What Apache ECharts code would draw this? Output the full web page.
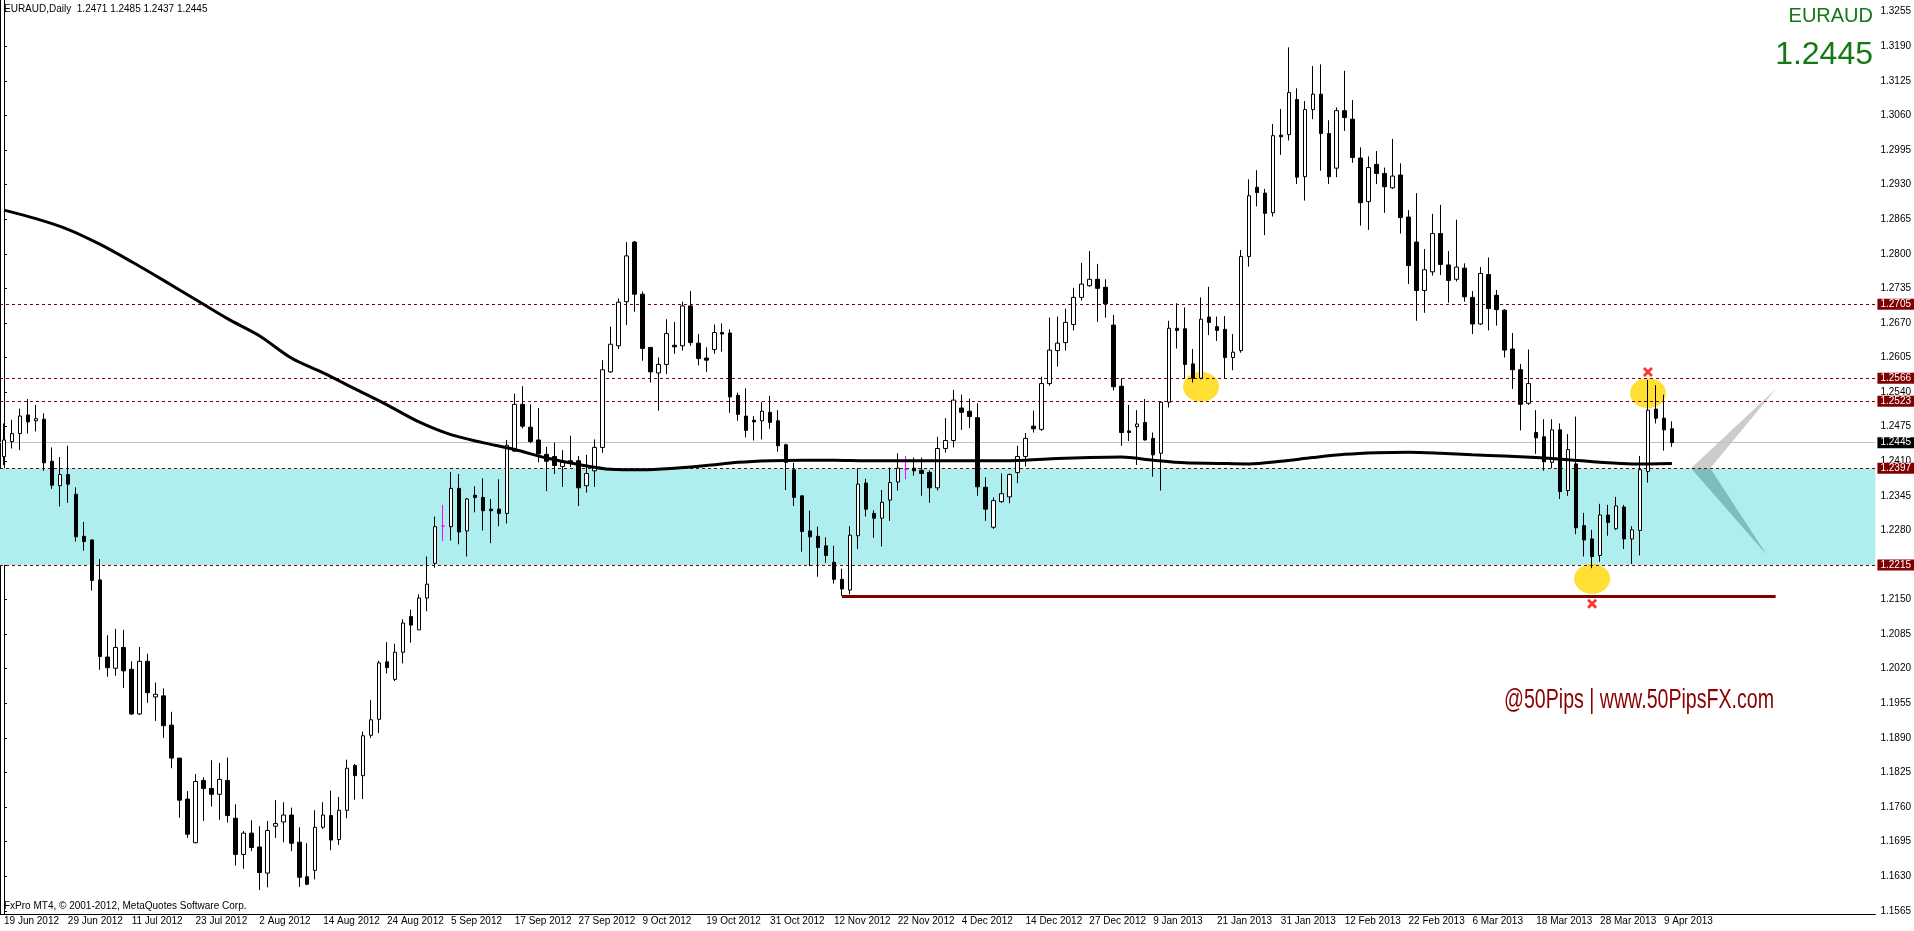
<!DOCTYPE html>
<html>
<head>
<meta charset="utf-8">
<title>EURAUD Daily</title>
<script src="https://cdn.jsdelivr.net/npm/echarts@6/dist/echarts.min.js"></script>
<style>
  html, body { margin: 0; padding: 0; background: #fff; }
  #chart { width: 1914px; height: 931px; }
</style>
</head>
<body>
<div id="chart"></div>
<script>
// daily bars, MT4 order: [open, high, low, close]
var bars = [
  [1.2419,1.2481,1.2403,1.2450],[1.2447,1.2488,1.2434,1.2462],[1.2462,1.2509,1.2431,1.2495],[1.2497,1.2527,1.2462,1.2484],
  [1.2486,1.2516,1.2466,1.2490],[1.2489,1.2500,1.2392,1.2407],[1.2410,1.2436,1.2358,1.2365],[1.2364,1.2418,1.2325,1.2385],
  [1.2385,1.2439,1.2332,1.2367],[1.2348,1.2361,1.2259,1.2268],[1.2269,1.2296,1.2242,1.2259],[1.2262,1.2263,1.2167,1.2186],
  [1.2187,1.2226,1.2018,1.2043],[1.2042,1.2083,1.2005,1.2022],[1.2021,1.2095,1.2007,1.2060],[1.2060,1.2093,1.1984,1.2016],
  [1.2019,1.2034,1.1933,1.1935],[1.1935,1.2061,1.1933,1.2034],[1.2034,1.2048,1.1956,1.1975],[1.1967,1.1994,1.1922,1.1972],
  [1.1969,1.1983,1.1890,1.1913],[1.1914,1.1939,1.1833,1.1852],[1.1852,1.1852,1.1740,1.1773],[1.1775,1.1790,1.1702,1.1709],
  [1.1693,1.1822,1.1692,1.1808],[1.1810,1.1816,1.1734,1.1795],[1.1795,1.1848,1.1761,1.1784],[1.1784,1.1843,1.1736,1.1812],
  [1.1810,1.1853,1.1731,1.1744],[1.1739,1.1765,1.1650,1.1671],[1.1671,1.1715,1.1644,1.1711],[1.1711,1.1735,1.1677,1.1684],
  [1.1685,1.1724,1.1604,1.1637],[1.1636,1.1734,1.1609,1.1716],[1.1724,1.1773,1.1702,1.1729],[1.1732,1.1769,1.1694,1.1745],
  [1.1745,1.1759,1.1677,1.1692],[1.1694,1.1722,1.1610,1.1628],[1.1629,1.1692,1.1613,1.1615],[1.1641,1.1754,1.1624,1.1722],
  [1.1722,1.1769,1.1719,1.1745],[1.1744,1.1791,1.1679,1.1698],[1.1699,1.1779,1.1689,1.1754],[1.1754,1.1849,1.1739,1.1833],
  [1.1838,1.1841,1.1774,1.1819],[1.1819,1.1902,1.1775,1.1894],[1.1895,1.1961,1.1890,1.1924],[1.1925,1.2035,1.1899,1.2031],
  [1.2033,1.2070,1.2011,1.2022],[1.2000,1.2067,1.1997,1.2051],[1.2051,1.2113,1.2030,1.2106],[1.2118,1.2131,1.2069,1.2102],
  [1.2093,1.2160,1.2093,1.2153],[1.2153,1.2231,1.2128,1.2179],[1.2218,1.2306,1.2210,1.2287],[1.2288,1.2328,1.2260,1.2288],
  [1.2287,1.2390,1.2261,1.2359],[1.2359,1.2386,1.2254,1.2277],[1.2279,1.2341,1.2231,1.2339],[1.2346,1.2363,1.2314,1.2342],
  [1.2342,1.2378,1.2280,1.2317],[1.2320,1.2339,1.2256,1.2317],[1.2320,1.2376,1.2288,1.2312],[1.2312,1.2450,1.2293,1.2440],
  [1.2429,1.2537,1.2428,1.2517],[1.2517,1.2551,1.2472,1.2476],[1.2474,1.2517,1.2444,1.2447],[1.2450,1.2510,1.2408,1.2424],
  [1.2423,1.2437,1.2354,1.2410],[1.2419,1.2445,1.2386,1.2402],[1.2400,1.2431,1.2362,1.2408],[1.2411,1.2458,1.2399,1.2407],
  [1.2411,1.2420,1.2326,1.2360],[1.2364,1.2422,1.2351,1.2387],[1.2392,1.2451,1.2362,1.2436],[1.2436,1.2600,1.2426,1.2582],
  [1.2578,1.2663,1.2576,1.2630],[1.2627,1.2716,1.2621,1.2709],[1.2710,1.2822,1.2666,1.2796],[1.2822,1.2824,1.2691,1.2724],
  [1.2724,1.2729,1.2599,1.2622],[1.2624,1.2624,1.2558,1.2578],[1.2576,1.2605,1.2505,1.2592],[1.2592,1.2677,1.2574,1.2650],
  [1.2628,1.2672,1.2612,1.2625],[1.2627,1.2710,1.2618,1.2702],[1.2702,1.2730,1.2627,1.2633],[1.2632,1.2649,1.2590,1.2603],
  [1.2604,1.2624,1.2578,1.2600],[1.2620,1.2667,1.2612,1.2652],[1.2652,1.2669,1.2616,1.2649],[1.2651,1.2658,1.2501,1.2531],
  [1.2534,1.2539,1.2486,1.2498],[1.2495,1.2547,1.2455,1.2468],[1.2487,1.2495,1.2449,1.2484],[1.2486,1.2521,1.2451,1.2504],
  [1.2502,1.2533,1.2471,1.2483],[1.2486,1.2506,1.2428,1.2439],[1.2441,1.2443,1.2356,1.2408],[1.2394,1.2407,1.2326,1.2342],
  [1.2345,1.2345,1.2240,1.2278],[1.2279,1.2317,1.2213,1.2268],[1.2269,1.2287,1.2193,1.2248],[1.2251,1.2267,1.2219,1.2233],
  [1.2220,1.2251,1.2180,1.2188],[1.2188,1.2208,1.2157,1.2170],[1.2168,1.2288,1.2160,1.2271],[1.2270,1.2397,1.2245,1.2367],
  [1.2369,1.2377,1.2306,1.2320],[1.2312,1.2318,1.2266,1.2303],[1.2303,1.2356,1.2250,1.2333],[1.2337,1.2398,1.2298,1.2370],
  [1.2371,1.2425,1.2355,1.2397],[1.2395,1.2420,1.2376,1.2395],[1.2397,1.2417,1.2383,1.2392],[1.2393,1.2417,1.2345,1.2387],
  [1.2389,1.2393,1.2332,1.2360],[1.2360,1.2456,1.2355,1.2434],[1.2434,1.2491,1.2426,1.2449],[1.2449,1.2544,1.2436,1.2525],
  [1.2510,1.2535,1.2469,1.2502],[1.2504,1.2528,1.2472,1.2494],[1.2492,1.2519,1.2345,1.2362],[1.2361,1.2380,1.2298,1.2320],
  [1.2286,1.2342,1.2283,1.2336],[1.2334,1.2387,1.2332,1.2349],[1.2343,1.2387,1.2331,1.2385],[1.2389,1.2439,1.2369,1.2419],
  [1.2419,1.2463,1.2400,1.2453],[1.2476,1.2505,1.2464,1.2471],[1.2470,1.2569,1.2467,1.2556],[1.2556,1.2680,1.2552,1.2619],
  [1.2618,1.2682,1.2588,1.2632],[1.2633,1.2697,1.2618,1.2671],[1.2667,1.2736,1.2656,1.2718],[1.2718,1.2783,1.2712,1.2743],
  [1.2740,1.2805,1.2738,1.2752],[1.2752,1.2781,1.2672,1.2735],[1.2737,1.2752,1.2680,1.2706],[1.2666,1.2685,1.2543,1.2550],
  [1.2551,1.2566,1.2439,1.2464],[1.2467,1.2516,1.2448,1.2464],[1.2475,1.2506,1.2403,1.2480],[1.2483,1.2527,1.2449,1.2450],
  [1.2453,1.2464,1.2381,1.2422],[1.2425,1.2523,1.2355,1.2521],[1.2521,1.2674,1.2511,1.2660],[1.2660,1.2707,1.2622,1.2656],
  [1.2659,1.2699,1.2566,1.2592],[1.2593,1.2621,1.2558,1.2566],[1.2566,1.2718,1.2564,1.2677],[1.2681,1.2738,1.2647,1.2671],
  [1.2663,1.2682,1.2636,1.2656],[1.2658,1.2683,1.2566,1.2605],[1.2605,1.2649,1.2581,1.2615],[1.2618,1.2807,1.2614,1.2795],
  [1.2795,1.2940,1.2776,1.2909],[1.2925,1.2957,1.2889,1.2915],[1.2914,1.2922,1.2835,1.2876],[1.2877,1.3044,1.2870,1.3022],
  [1.3023,1.3072,1.2986,1.3020],[1.3024,1.3188,1.3013,1.3103],[1.3090,1.3111,1.2931,1.2944],[1.2945,1.3087,1.2900,1.3071],
  [1.3071,1.3153,1.3053,1.3100],[1.3100,1.3156,1.2956,1.3026],[1.3026,1.3051,1.2931,1.2945],[1.2961,1.3075,1.2944,1.3069],
  [1.3069,1.3144,1.3031,1.3056],[1.3053,1.3089,1.2971,1.2981],[1.2980,1.3000,1.2853,1.2896],[1.2898,1.2983,1.2845,1.2962],
  [1.2968,1.2993,1.2931,1.2951],[1.2951,1.2962,1.2877,1.2926],[1.2924,1.3016,1.2922,1.2946],[1.2948,1.2970,1.2838,1.2868],
  [1.2869,1.2882,1.2743,1.2778],[1.2822,1.2914,1.2674,1.2731],[1.2731,1.2809,1.2689,1.2770],[1.2766,1.2875,1.2759,1.2838],
  [1.2838,1.2892,1.2760,1.2780],[1.2779,1.2805,1.2708,1.2750],[1.2752,1.2864,1.2748,1.2775],[1.2773,1.2782,1.2710,1.2719],
  [1.2718,1.2730,1.2649,1.2668],[1.2668,1.2775,1.2666,1.2763],[1.2761,1.2793,1.2656,1.2697],[1.2722,1.2732,1.2665,1.2695],
  [1.2694,1.2696,1.2605,1.2619],[1.2621,1.2651,1.2546,1.2582],[1.2582,1.2593,1.2468,1.2517],[1.2519,1.2620,1.2516,1.2556],
  [1.2464,1.2506,1.2424,1.2454],[1.2456,1.2489,1.2392,1.2409],[1.2408,1.2489,1.2397,1.2469],[1.2469,1.2481,1.2339,1.2353],
  [1.2355,1.2461,1.2345,1.2432],[1.2405,1.2494,1.2273,1.2285],[1.2289,1.2313,1.2231,1.2262],[1.2264,1.2281,1.2209,1.2231],
  [1.2233,1.2330,1.2221,1.2309],[1.2309,1.2328,1.2270,1.2295],[1.2283,1.2343,1.2281,1.2326],[1.2324,1.2328,1.2245,1.2264],
  [1.2264,1.2288,1.2217,1.2281],[1.2280,1.2420,1.2233,1.2394],[1.2391,1.2563,1.2370,1.2506],[1.2508,1.2553,1.2481,1.2491],
  [1.2491,1.2535,1.2430,1.2469],[1.2471,1.2485,1.2437,1.2445]
];

// moving average, read every few bars: [bar index, price]
var maLine = [
  [0,1.2882],[4,1.2866],[8,1.2846],[12,1.2818],[16,1.2785],[20,1.2750],[24,1.2714],[28,1.2678],
  [32,1.2646],[36,1.2604],[40,1.2576],[44,1.2546],[48,1.2516],[52,1.2484],[56,1.2460],[60,1.2445],
  [64,1.2432],[68,1.2416],[72,1.2404],[76,1.2395],[80,1.2394],[84,1.2397],[88,1.2402],[92,1.2408],
  [96,1.2411],[100,1.2412],[104,1.2412],[108,1.2411],[112,1.2411],[116,1.2411],[120,1.2411],[124,1.2411],
  [128,1.2412],[132,1.2415],[136,1.2417],[140,1.2418],[144,1.2412],[148,1.2407],[152,1.2406],[156,1.2405],
  [160,1.2410],[164,1.2417],[168,1.2423],[172,1.2426],[176,1.2427],[180,1.2425],[184,1.2422],[188,1.2420],
  [192,1.2417],[196,1.2413],[200,1.2408],[204,1.2405],[209,1.2406]
];

var dateTicks = ['19 Jun 2012','29 Jun 2012','11 Jul 2012','23 Jul 2012','2 Aug 2012','14 Aug 2012','24 Aug 2012',
  '5 Sep 2012','17 Sep 2012','27 Sep 2012','9 Oct 2012','19 Oct 2012','31 Oct 2012','12 Nov 2012','22 Nov 2012',
  '4 Dec 2012','14 Dec 2012','27 Dec 2012','9 Jan 2013','21 Jan 2013','31 Jan 2013','12 Feb 2013','22 Feb 2013',
  '6 Mar 2013','18 Mar 2013','28 Mar 2013','9 Apr 2013'];
var priceTicks = [1.1565,1.1630,1.1695,1.1760,1.1825,1.1890,1.1955,1.2020,1.2085,1.2150,1.2215,1.2280,1.2345,1.2410,
  1.2475,1.2540,1.2605,1.2670,1.2735,1.2800,1.2865,1.2930,1.2995,1.3060,1.3125,1.3190,1.3255];

var levels = [1.2705, 1.2566, 1.2523, 1.2397, 1.2215];
var bidPrice = 1.2445;
var zone = [1.2215, 1.2397];
var support = [[105, 1.2157], [222, 1.2157]];
var dojiBars = [55, 113];
var circles = [[150, 1.2550], [199, 1.2189], [206, 1.2538]];
var crosses = [[206, 1.2578], [199, 1.2142]];
var arrowUp = [211.4, 1.2397, 222.1, 1.2547, 213.8, 1.2397];
var arrowDown = [211.4, 1.2397, 213.8, 1.2397, 220.9, 1.2234];

var slots = 235;   // bars plus the empty shift area on the right
var cats = [];
for (var i = 0; i < slots; i++) cats.push(String(i));

var candleData = bars.map(function (b, i) {
  var item = { value: [b[0], b[3], b[2], b[1]] };
  if (dojiBars.indexOf(i) >= 0) {
    item.itemStyle = { borderColor: '#ff00ff', borderColor0: '#ff00ff', color: '#ff00ff', color0: '#ff00ff' };
  }
  return item;
});

var font = '"Liberation Sans", Arial, sans-serif';
var darkRed = '#800000';

function tickShown(idx) { return idx % 8 === 0 && idx / 8 < dateTicks.length; }

var chart = echarts.init(document.getElementById('chart'));
chart.setOption({
  animation: false,
  backgroundColor: '#fff',
  grid: { left: 0, right: 37, top: 0, bottom: 17, containLabel: false },
  xAxis: [{
    type: 'category',
    data: cats,
    boundaryGap: true,
    axisLine: { lineStyle: { color: '#000', width: 1 } },
    axisTick: { alignWithLabel: true, interval: tickShown, length: 4, lineStyle: { color: '#000' } },
    axisLabel: {
      interval: tickShown,
      formatter: function (v, idx) { return dateTicks[idx / 8] || ''; },
      align: 'left', margin: 2,
      fontFamily: font, fontSize: 10, color: '#000'
    },
    splitLine: { show: false }
  }, {
    type: 'value', min: -0.5, max: slots - 0.5, show: false
  }],
  yAxis: [{
    type: 'value',
    position: 'right',
    min: 1.1559, max: 1.3277,
    axisLine: { show: true, lineStyle: { color: '#000', width: 1 } },
    axisTick: { show: true, customValues: priceTicks, length: 3, lineStyle: { color: '#000' } },
    axisLabel: {
      customValues: priceTicks, margin: 5,
      formatter: function (v) { return v.toFixed(4); },
      fontFamily: font, fontSize: 10, color: '#000'
    },
    splitLine: { show: false }
  }, {
    type: 'value', position: 'left', min: 1.1559, max: 1.3277,
    axisLine: { show: true, lineStyle: { color: '#000' } },
    axisTick: { show: false }, axisLabel: { show: false }, splitLine: { show: false }
  }],
  series: [{
    // support / resistance zone behind everything
    type: 'line', data: [], z: 1, silent: true,
    markArea: {
      silent: true,
      itemStyle: { color: '#afeeee' },
      data: [[{ yAxis: zone[0] }, { yAxis: zone[1] }]]
    }
  }, {
    type: 'scatter', xAxisIndex: 1, z: 2, silent: true,
    symbol: 'circle', symbolSize: [36, 30],
    itemStyle: { color: '#ffd700' },
    data: circles
  }, {
    // level lines and their price boxes
    type: 'line', data: [], z: 3, silent: true,
    markLine: {
      silent: true, symbol: ['none', 'none'], precision: 4,
      label: {
        position: 'end', distance: 2,
        formatter: function (p) { return Number(p.value).toFixed(4); },
        backgroundColor: darkRed, color: '#fff', padding: [1, 3, 0, 3],
        fontFamily: font, fontSize: 10
      },
      lineStyle: { color: darkRed, type: [3, 3], width: 1 },
      data: levels.map(function (v) { return { yAxis: v }; }).concat([{
        yAxis: bidPrice,
        lineStyle: { color: '#c0c0c0', type: 'solid', width: 1 },
        label: { backgroundColor: '#000', color: '#fff' }
      }])
    }
  }, {
    type: 'line', data: [], xAxisIndex: 1, z: 3, silent: true,
    markLine: {
      silent: true, symbol: ['none', 'none'], precision: 4, label: { show: false },
      lineStyle: { color: darkRed, type: 'solid', width: 3 },
      data: [[{ coord: support[0] }, { coord: support[1] }]]
    }
  }, {
    type: 'custom', xAxisIndex: 1, z: 3, silent: true,
    renderItem: function (params, api) {
      var pts = [];
      for (var k = 0; k < 3; k++) pts.push(api.coord([api.value(k * 2), api.value(k * 2 + 1)]));
      return {
        type: 'polygon',
        shape: { points: pts },
        style: { fill: params.dataIndex === 0 ? '#cccccc' : '#7fbcbd' }
      };
    },
    encode: { x: [0, 2, 4], y: [1, 3, 5] },
    data: [arrowUp, arrowDown]
  }, {
    type: 'candlestick',
    name: 'EURAUD',
    z: 5,
    barWidth: 4,
    itemStyle: {
      color: '#ffffff', color0: '#000000',
      borderColor: '#000000', borderColor0: '#000000',
      borderColorDoji: '#ff00ff', borderWidth: 1
    },
    data: candleData
  }, {
    type: 'line', xAxisIndex: 1, z: 6, silent: true,
    smooth: 0.3, showSymbol: false,
    lineStyle: { color: '#000', width: 3 },
    data: maLine
  }, {
    type: 'scatter', xAxisIndex: 1, z: 7, silent: true,
    symbol: 'path://M0,2L2,0L5,3L8,0L10,2L7,5L10,8L8,10L5,7L2,10L0,8L3,5Z',
    symbolSize: 10,
    itemStyle: { color: '#ff0000' },
    data: crosses
  }],
  graphic: [{
    type: 'text', left: 4, top: 4, z: 10,
    style: { text: 'EURAUD,Daily  1.2471 1.2485 1.2437 1.2445', font: '10px ' + font, fill: '#000' }
  }, {
    type: 'text', right: 41, top: 6, z: 10,
    style: { text: 'EURAUD', font: '20px ' + font, fill: '#147814' }
  }, {
    type: 'text', right: 41, top: 39, z: 10,
    style: { text: '1.2445', font: '32px ' + font, fill: '#147814' }
  }, {
    type: 'text', x: 1504, y: 686, z: 10, scaleX: 0.7,
    style: { text: '@50Pips | www.50PipsFX.com', font: '28px ' + font, fill: '#8b0000' }
  }, {
    type: 'text', left: 4, top: 901, z: 10,
    style: { text: 'FxPro MT4, \u00a9 2001-2012, MetaQuotes Software Corp.', font: '10px ' + font, fill: '#000' }
  }]
});
</script>
</body>
</html>
